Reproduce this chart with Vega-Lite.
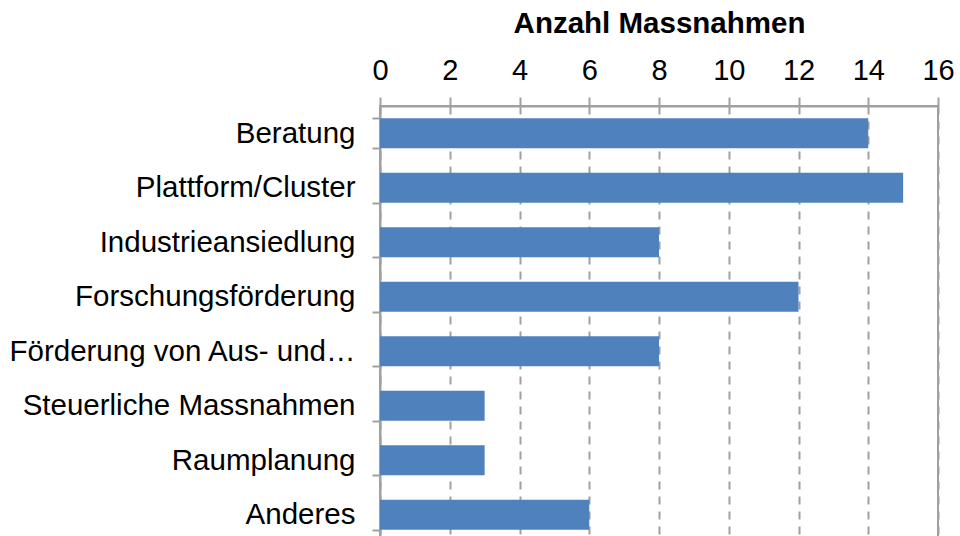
{
  "$schema": "https://vega.github.io/schema/vega-lite/v6.json",
  "autosize": "none",
  "width": 558,
  "height": 436,
  "padding": {"left": 380, "top": 106, "right": 22, "bottom": 0},
  "background": "white",
  "data": {
    "values": [
      {"Kategorie": "Beratung", "Anzahl": 14},
      {"Kategorie": "Plattform/Cluster", "Anzahl": 15},
      {"Kategorie": "Industrieansiedlung", "Anzahl": 8},
      {"Kategorie": "Forschungsförderung", "Anzahl": 12},
      {"Kategorie": "Förderung von Aus- und…", "Anzahl": 8},
      {"Kategorie": "Steuerliche Massnahmen", "Anzahl": 3},
      {"Kategorie": "Raumplanung", "Anzahl": 3},
      {"Kategorie": "Anderes", "Anzahl": 6}
    ]
  },
  "mark": {"type": "bar", "color": "#4F81BD"},
  "encoding": {
    "y": {
      "field": "Kategorie",
      "type": "nominal",
      "sort": null,
      "scale": {"paddingInner": 0.45, "paddingOuter": 0.225},
      "axis": {
        "title": null,
        "tickBand": "extent",
        "tickSize": 8,
        "tickColor": "#a0a0a0",
        "tickWidth": 2,
        "domainColor": "#a0a0a0",
        "domainWidth": 2,
        "labelPadding": 17,
        "labelFont": "Liberation Sans",
        "labelFontSize": 29.5,
        "labelColor": "#000000",
        "labelLimit": 500,
        "grid": false
      }
    },
    "x": {
      "field": "Anzahl",
      "type": "quantitative",
      "scale": {"domain": [0, 16], "nice": false},
      "axis": {
        "orient": "top",
        "title": "Anzahl Massnahmen",
        "titleFont": "Liberation Sans",
        "titleFontSize": 29.5,
        "titleFontWeight": "bold",
        "titleColor": "#000000",
        "titlePadding": 18,
        "values": [0, 2, 4, 6, 8, 10, 12, 14, 16],
        "tickSize": 9,
        "tickColor": "#a0a0a0",
        "tickWidth": 2,
        "domainColor": "#a0a0a0",
        "domainWidth": 2,
        "labelPadding": 12,
        "labelFont": "Liberation Sans",
        "labelFontSize": 29,
        "labelColor": "#000000",
        "labelFlush": false,
        "grid": true,
        "gridColor": "#a0a0a0",
        "gridWidth": 2,
        "gridDash": [8, 7]
      }
    }
  },
  "config": {
    "view": {"stroke": "#a0a0a0", "strokeWidth": 2}
  }
}
